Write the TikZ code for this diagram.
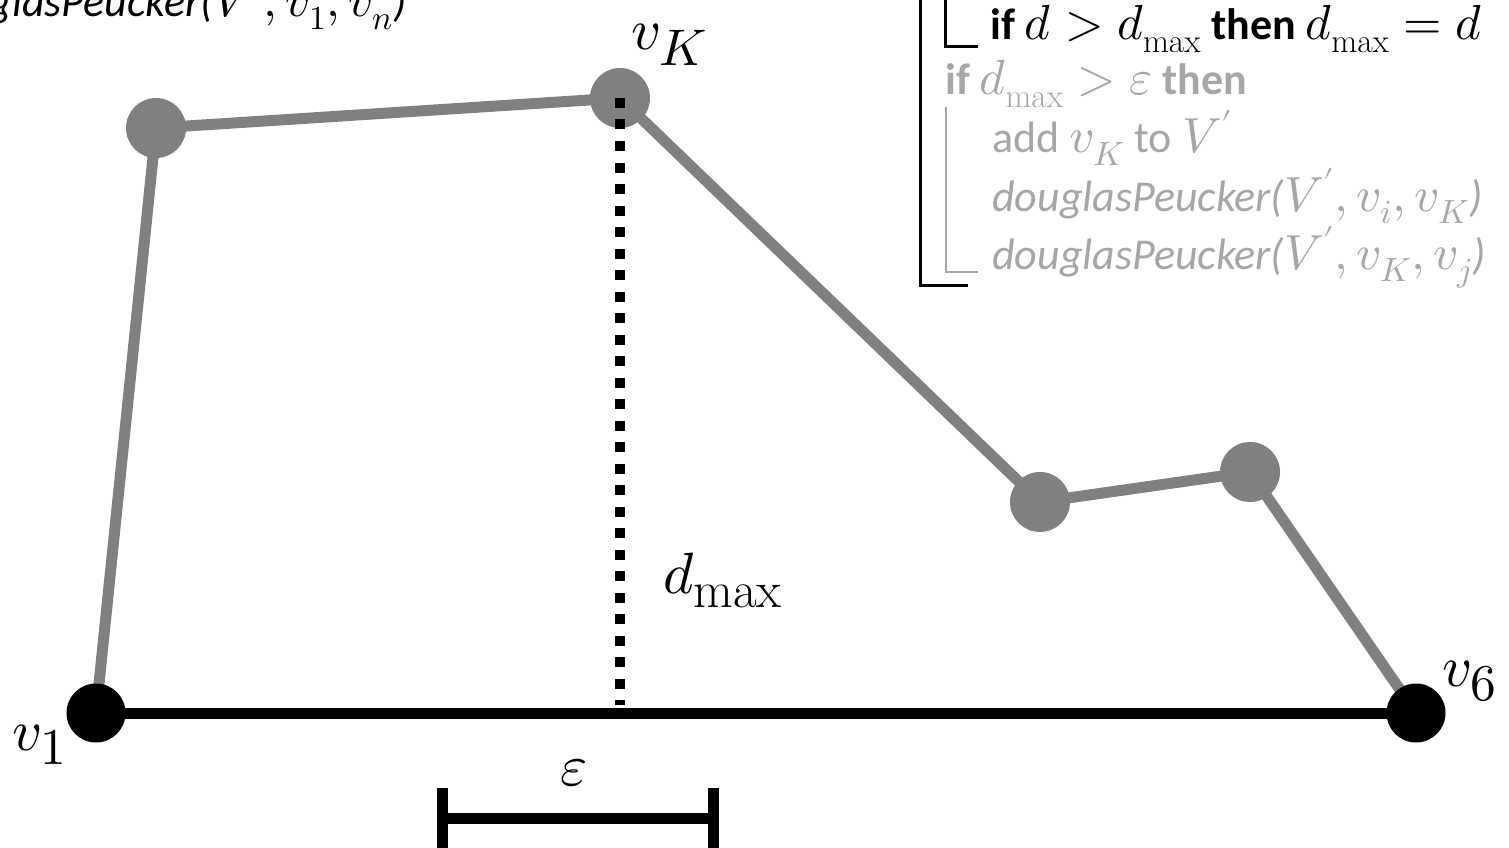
\documentclass[tikz,border=0pt]{standalone}
\usepackage{fontspec}
\usepackage{unicode-math}
\setmainfont{Carlito}
\setmathfont{Latin Modern Math}[Scale=1.12]
\setmathrm{Latin Modern Roman}[Scale=1.12]
\DeclareMathSizes{44}{44}{30}{24}
\DeclareMathSizes{52}{52}{46}{36}
\definecolor{dgray}{HTML}{808080}
\definecolor{lgray}{HTML}{A6A6A6}
\begin{document}
\begin{tikzpicture}[x=1pt,y=-1pt,
  gdot/.style={circle,fill=dgray,minimum size=60pt,inner sep=0pt},
  bdot/.style={circle,fill=black,minimum size=59pt,inner sep=0pt},
  gline/.style={draw=dgray,line width=11pt},
  bline/.style={draw=black,line width=11pt},
  dline/.style={draw=black,line width=10pt,dash pattern=on 10pt off 11.5pt},
  lab/.style={font=\fontsize{52}{60}\selectfont,inner sep=0pt},
  algo/.style={font=\fontsize{44}{50}\selectfont,inner sep=0pt,anchor=base west},
  brk/.style={line width=3pt},
  gbrk/.style={draw=lgray,line width=2pt}]
\useasboundingbox (0,0) rectangle (1509,848);
\clip (0,0) rectangle (1509,848);
% positions
\coordinate (p1) at (96,713);
\coordinate (p2) at (156,128);
\coordinate (pK) at (620,98);
\coordinate (p4) at (1040,502);
\coordinate (p5) at (1250,472);
\coordinate (p6) at (1416,713);
\coordinate (foot) at (620,705);
\coordinate (e1) at (442,818);
\coordinate (e2) at (713,818);
\coordinate (e1t) at (442,788);
\coordinate (e1b) at (442,860);
\coordinate (e2t) at (713,788);
\coordinate (e2b) at (713,860);
% polyline
\draw[gline] (p1) -- (p2) -- (pK) -- (p4) -- (p5) -- (p6);
\draw[bline] (p1) -- (p6);
\node[gdot] (n2) at (p2) {};
\node[gdot] (nK) at (pK) {};
\node[gdot] (n4) at (p4) {};
\node[gdot] (n5) at (p5) {};
\node[bdot] (n1) at (p1) {};
\node[bdot] (n6) at (p6) {};
\draw[dline] (nK.center) -- (foot);
% labels
\node[lab,anchor=base west] (l1) at (12,750) {$v_1$};
\node[lab,anchor=base west] (l6) at (1442,686) {$v_6$};
\node[lab,anchor=base west] (lK) at (631,50) {$v_K$};
\node[lab,anchor=base west] (ld) at (663,593) {$d_{\max}$};
\node[lab] (leps) at (574,773) {$\varepsilon$};
% epsilon bar
\draw[bline] (e1) -- (e2);
\draw[bline] (e1t) -- (e1b);
\draw[bline] (e2t) -- (e2b);
% algorithm fragments
\node[algo,anchor=base east] (call) at (407,17) {\itshape douglasPeucker(\upshape$V',v_1,v_n$\itshape)};
\draw[brk] (920,-5) -- (920,285) -- (968,285);
\draw[brk] (945,-5) -- (945,47) -- (978,47);
\node[algo] (a1) at (990,40) {\textbf{if} $d>d_{\max}$ \textbf{then} $d_{\max}=d$};
\node[algo,text=lgray] (a2) at (945,95) {\textbf{if} $d_{\max}>\varepsilon$ \textbf{then}};
\draw[gbrk] (946,107) -- (946,272) -- (978,272);
\node[algo,text=lgray] (a3) at (992,153) {add $v_K$ to $V'$};
\node[algo,text=lgray] (a4) at (992,211) {\itshape douglasPeucker(\upshape$V',v_i,v_K$\itshape)};
\node[algo,text=lgray] (a5) at (992,269) {\itshape douglasPeucker(\upshape$V',v_K,v_j$\itshape)};
\end{tikzpicture}
\end{document}
